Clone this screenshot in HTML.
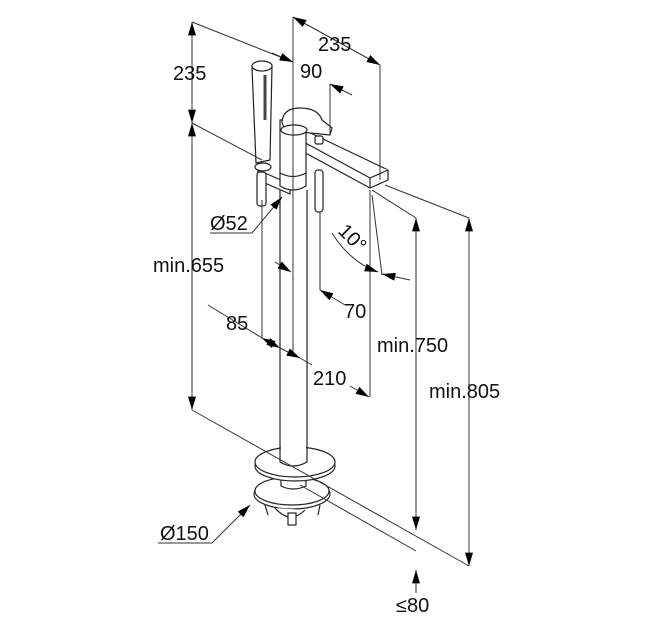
<!DOCTYPE html>
<html><head><meta charset="utf-8"><style>
html,body{margin:0;padding:0;background:#fff}
svg{display:block}
text{font-family:"Liberation Sans",sans-serif;font-size:20px;fill:#111}
</style></head><body>
<svg width="650" height="634" viewBox="0 0 650 634" xmlns="http://www.w3.org/2000/svg">
<defs>
<marker id="a" viewBox="0 0 10 6" refX="10" refY="3" markerWidth="14" markerHeight="8" markerUnits="userSpaceOnUse" orient="auto-start-reverse"><path d="M0,0 L10,3 L0,6 z" fill="#000"/></marker>
</defs>
<!-- faucet drawing -->
<g stroke="#222" stroke-width="1.2" fill="#fff">
<!-- lower neck and plate -->
<ellipse cx="292" cy="494" rx="38" ry="15"/>
<ellipse cx="292" cy="491" rx="37" ry="14"/>
<rect x="281" y="468" width="25" height="22" stroke="none"/>
<path d="M281,468 V486 Q293,492 306,486 V468"/>
<path d="M265,505 L268,515 M320,505 L318,515 M275,508 Q290,525 305,510"/>
<rect x="288" y="513" width="8" height="12"/>
<!-- rosette -->
<ellipse cx="295" cy="466" rx="40" ry="15"/>
<ellipse cx="295" cy="462" rx="40" ry="15"/>
<rect x="281" y="190" width="25" height="268" stroke="none"/>
<path d="M280,190 V462 Q293,470 307,462 V190" fill="none"/>
<!-- hand shower arm and rods -->
<path d="M258,170 L290,184 L290,194 L258,180 Z"/>
<rect x="257" y="172" width="9" height="34" rx="3"/>
<rect x="315" y="170" width="8" height="42" rx="3"/>
<!-- hand shower -->
<path d="M252,68 L272,66 L270,160 L256,163 Z"/>
<ellipse cx="262" cy="66" rx="10" ry="5"/>
<line x1="265" y1="75" x2="265" y2="120" stroke-width="3" stroke="#444"/>
<ellipse cx="263" cy="167" rx="8" ry="4"/>
<!-- spout -->
<path d="M300,128 L388,170 L388,180 L370,188 L300,150 Z"/>
<path d="M300,140 L370,178 L388,170"/>
<line x1="370" y1="178" x2="370" y2="188"/>
<!-- body -->
<path d="M280,120 V186 Q293,194 306,186 V120 Z"/>
<path d="M280,173 Q293,180 306,173"/>
<!-- lever -->
<path d="M282,122 Q283,108 300,108 Q318,108 322,120 L332,128 L330,135 L300,132 Q283,132 282,122 Z"/>
<ellipse cx="294" cy="130" rx="13" ry="5"/>
<rect x="315" y="136" width="8" height="8" rx="2"/>
</g>
<g stroke="#333" stroke-width="1" fill="none">
<!-- left vertical dims -->
<line x1="192" y1="22" x2="192" y2="123" marker-start="url(#a)" marker-end="url(#a)"/>
<line x1="192" y1="123" x2="192" y2="410" marker-start="url(#a)" marker-end="url(#a)"/>
<line x1="192" y1="22" x2="293" y2="62"/>
<line x1="192" y1="123" x2="262" y2="160"/>
<line x1="192" y1="410" x2="469" y2="566"/>
<!-- top 235 -->
<line x1="293" y1="17" x2="293" y2="353"/>
<line x1="293" y1="17" x2="380" y2="65" marker-start="url(#a)" marker-end="url(#a)"/>
<line x1="380" y1="65" x2="380" y2="180"/>
<!-- 90 -->
<line x1="272" y1="53" x2="293" y2="62" marker-end="url(#a)"/>
<line x1="330" y1="84" x2="352" y2="95" marker-start="url(#a)"/>
<line x1="330" y1="84" x2="330" y2="135"/>
<!-- right verticals -->
<line x1="385" y1="185" x2="469" y2="218"/>
<line x1="372" y1="190" x2="416" y2="218"/>
<line x1="416" y1="218" x2="416" y2="530" marker-start="url(#a)" marker-end="url(#a)"/>
<line x1="469" y1="218" x2="469" y2="566" marker-start="url(#a)" marker-end="url(#a)"/>
<line x1="300" y1="485" x2="416" y2="551"/>
<line x1="416" y1="570" x2="416" y2="593" marker-start="url(#a)"/>
<!-- 10 deg -->
<line x1="370" y1="190" x2="370" y2="397"/>
<line x1="372" y1="195" x2="382" y2="275"/>
<path d="M332,233 Q350,262 378,272" marker-end="url(#a)"/>
<line x1="410" y1="280" x2="382" y2="274" marker-end="url(#a)"/>
<!-- 70 -->
<line x1="320" y1="212" x2="320" y2="290"/>
<line x1="320" y1="290" x2="345" y2="305" marker-start="url(#a)"/>
<!-- 85 / 210 -->
<line x1="262" y1="200" x2="262" y2="338"/>
<line x1="275" y1="262" x2="291" y2="272" marker-end="url(#a)"/>
<line x1="208" y1="305" x2="262" y2="338"/>
<line x1="262" y1="338" x2="280" y2="348" marker-start="url(#a)" marker-end="url(#a)"/>
<line x1="280" y1="348" x2="300" y2="358" marker-end="url(#a)"/>
<line x1="300" y1="358" x2="312" y2="365"/>
<line x1="350" y1="386" x2="369" y2="397" marker-end="url(#a)"/>
<!-- Ø52 leader -->
<polyline points="210,233 252,233 282,197" marker-end="url(#a)"/>
<!-- Ø150 leader -->
<polyline points="158,543 212,543 250,505" marker-end="url(#a)"/>
</g>
<!-- labels -->
<g>
<text x="173" y="80">235</text>
<text x="318" y="51">235</text>
<text x="300" y="78">90</text>
<text x="210" y="230">Ø52</text>
<text x="0" y="0" transform="translate(337,232) rotate(45)">10°</text>
<text x="153" y="272">min.655</text>
<text x="344" y="318">70</text>
<text x="226" y="330">85</text>
<text x="377" y="352">min.750</text>
<text x="313" y="385">210</text>
<text x="429" y="398">min.805</text>
<text x="160" y="540">Ø150</text>
<text x="396" y="612">≤80</text>
</g>
</svg>
</body></html>
